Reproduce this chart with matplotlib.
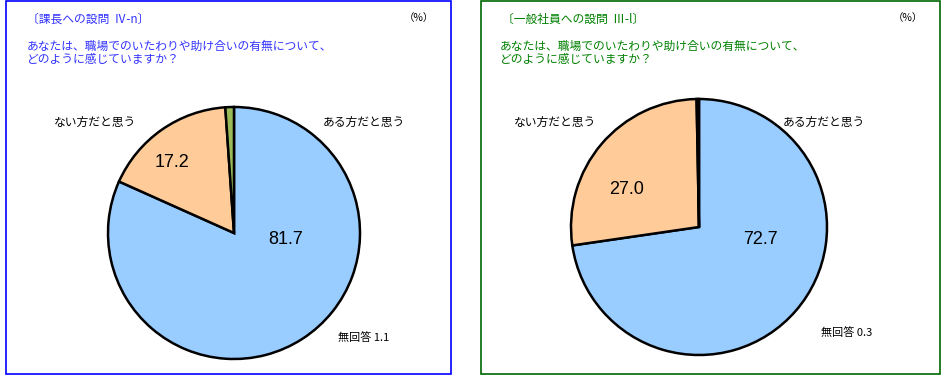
import matplotlib
matplotlib.use("Agg")
import matplotlib.pyplot as plt
from matplotlib.patches import Rectangle

plt.rcParams['font.family'] = ['Noto Sans CJK JP', 'DejaVu Sans']

categories = ['ある方だと思う', 'ない方だと思う', '無回答']
kacho = [81.7, 17.2, 1.1]
shain = [72.7, 27.0, 0.3]
colors = ['#99CCFF', '#FFCC99', '#9BBB59']

W, H = 942, 377
fig = plt.figure(figsize=(W / 100, H / 100), dpi=100)


def px(x, y):
    return x / W, 1 - y / H


def panel(x0, x1, edge, title, tcolor, qx, vals, cx, cy, r, pos_in, pos_lab):
    fig.add_artist(Rectangle(px(x0, 374), (x1 - x0) / W, 373 / H,
                             transform=fig.transFigure, fill=False,
                             edgecolor=edge, linewidth=1.2))
    fig.text(*px(x0 + 21, 19), title, color=tcolor, fontsize=8.5, va='center')
    fig.text(*px(x1 - 47, 18), '（%）', color='black', fontsize=7.5, va='center')
    fig.text(*px(qx, 46), 'あなたは、職場でのいたわりや助け合いの有無について、',
             color=tcolor, fontsize=8.5, va='center')
    fig.text(*px(qx, 60), 'どのように感じていますか？',
             color=tcolor, fontsize=8.5, va='center')

    ax = fig.add_axes([(cx - r) / W, (H - cy - r) / H, 2 * r / W, 2 * r / H])
    ax.pie(vals, colors=colors, startangle=90, counterclock=False,
           wedgeprops=dict(edgecolor='black', linewidth=1.8))
    ax.set_xlim(-1, 1)
    ax.set_ylim(-1, 1)
    ax.set_aspect('auto')
    ax.axis('off')

    # values inside the two big slices
    for v, (x, y) in zip(vals[:2], pos_in):
        fig.text(*px(x, y), '%.1f' % v, fontsize=13, ha='center', va='center',
                 family=['Liberation Sans', 'DejaVu Sans'])
    (ax1, ay1), (ax2, ay2), (ax3, ay3) = pos_lab
    fig.text(*px(ax1, ay1), categories[0], fontsize=8.5, ha='center', va='center')
    fig.text(*px(ax2, ay2), categories[1], fontsize=8.5, ha='center', va='center')
    fig.text(*px(ax3, ay3), '%s %.1f' % (categories[2], vals[2]),
             fontsize=8, ha='left', va='center')


panel(6, 451, '#0000FF', '〔課長への設問  Ⅳ-n〕', '#3333FF', 27, kacho,
      234, 233, 126,
      [(286, 240), (172, 163)],
      [(364, 122), (95, 122), (338, 338)])

panel(481, 940, '#006600', '〔一般社員への設問  Ⅲ-l〕', '#008000', 500, shain,
      699, 227, 128,
      [(760, 240), (627, 190)],
      [(824, 122), (555, 122), (821, 333)])

fig.savefig('out.png', dpi=100)
